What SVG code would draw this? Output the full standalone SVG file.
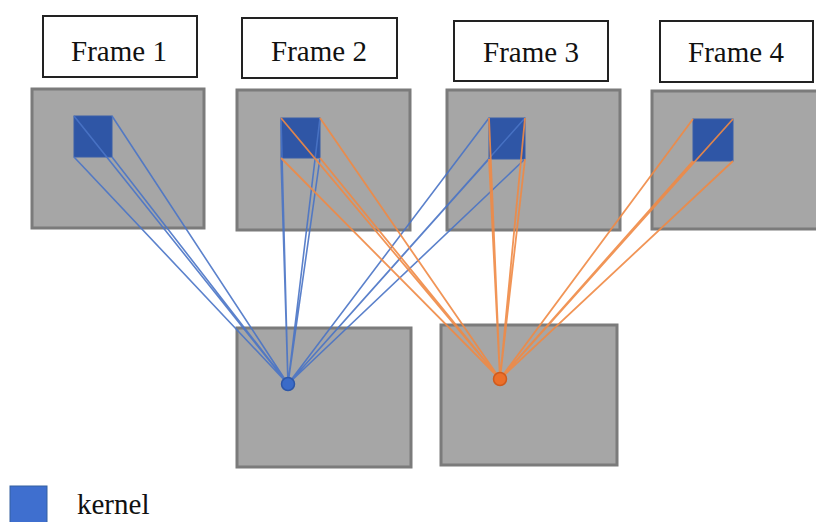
<svg xmlns="http://www.w3.org/2000/svg" width="816" height="522" viewBox="0 0 816 522">
<style>
.lbl{fill:#fff;stroke:#222;stroke-width:2}
.txt{font-family:"Liberation Serif",Tinos,"Times New Roman","DejaVu Serif",serif;font-size:29px;fill:#111;text-anchor:middle}
.gray{fill:#a6a6a6;stroke:#7b7b7b;stroke-width:3}
.kern{fill:#2f56a6;stroke:#3b5fa8;stroke-width:1}
.b{stroke:#4a74c6;stroke-width:1.6;fill:none;opacity:0.9}
.o{stroke:#f08a45;stroke-width:1.8;fill:none;opacity:0.9}
</style>
<rect width="816" height="522" fill="#fff"/>
<g id="frame1">
<rect class="lbl" x="43" y="16" width="154" height="61"/>
<text class="txt" x="119" y="61">Frame 1</text>
<rect class="gray" x="32" y="89" width="172" height="139"/>
<rect class="kern" x="74" y="116" width="38" height="41"/>
</g>
<g id="frame2">
<rect class="lbl" x="242" y="18" width="155" height="60"/>
<text class="txt" x="319" y="61">Frame 2</text>
<rect class="gray" x="237" y="90" width="173" height="140"/>
<rect class="kern" x="281" y="118" width="39" height="40"/>
</g>
<g id="frame3">
<rect class="lbl" x="454" y="21" width="154" height="60"/>
<text class="txt" x="531" y="62">Frame 3</text>
<rect class="gray" x="447" y="90" width="173" height="140"/>
<rect class="kern" x="489" y="118" width="36" height="41"/>
</g>
<g id="frame4">
<rect class="lbl" x="660" y="21" width="153" height="61"/>
<text class="txt" x="736" y="62">Frame 4</text>
<rect class="gray" x="652" y="91" width="170" height="138"/>
<rect class="kern" x="693" y="119" width="40" height="42"/>
</g>
<g id="out1">
<rect class="gray" x="237" y="328" width="174" height="139"/>
</g>
<g id="out2">
<rect class="gray" x="441" y="325" width="176" height="140"/>
</g>
<g id="connectors">
<g class="b">
<path d="M74 116L288 384M112 116L288 384M74 157L288 384M112 157L288 384"/>
<path d="M281 118L288 384M320 118L288 384M281 158L288 384M320 158L288 384"/>
<path d="M489 118L288 384M525 118L288 384M489 159L288 384M525 159L288 384"/>
</g>
<g class="o">
<path d="M281 118L500 379M320 118L500 379M281 158L500 379M320 158L500 379"/>
<path d="M489 118L500 379M525 118L500 379M489 159L500 379M525 159L500 379"/>
<path d="M693 119L500 379M733 119L500 379M693 161L500 379M733 161L500 379"/>
</g>
</g>
<g id="dots">
<circle cx="288" cy="384" r="6.5" fill="#3a6bc8" stroke="#2d57a8" stroke-width="1.5"/>
<circle cx="500" cy="379" r="6.5" fill="#ec6f2a" stroke="#d05a1c" stroke-width="1.5"/>
</g>
<g id="legend">
<rect x="10" y="486" width="37" height="37" fill="#3f6fcf" stroke="#35609f" stroke-width="1"/>
<text class="txt" x="77" y="514" style="text-anchor:start">kernel</text>
</g>
</svg>
